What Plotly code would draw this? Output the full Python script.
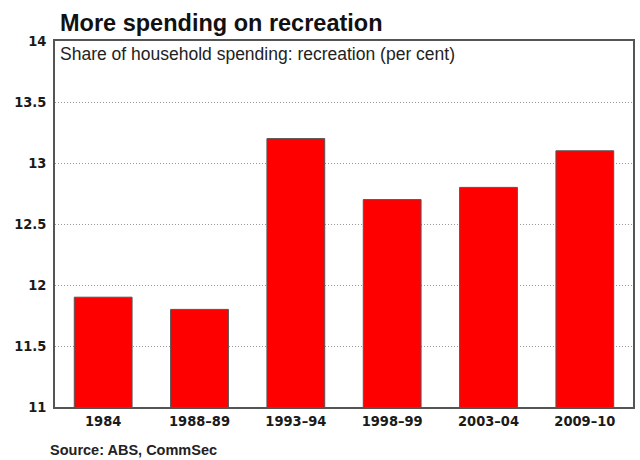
import plotly.graph_objects as go

# Share of household spending on recreation, per cent
periods = ["1984", "1988–89", "1993–94", "1998–99", "2003–04", "2009–10"]
shares = [11.9, 11.8, 13.2, 12.7, 12.8, 13.1]
y_ticks = [11, 11.5, 12, 12.5, 13, 13.5, 14]
y_tick_text = ["<b>11</b>", "<b>11.5</b>", "<b>12</b>", "<b>12.5</b>", "<b>13</b>", "<b>13.5</b>", "<b>14</b>"]

tick_font = dict(size=14.5, family="DejaVu Sans Condensed, Liberation Sans, Arial",
                 color="#1a1a1a")

fig = go.Figure()
fig.add_trace(go.Bar(
    x=periods,
    y=shares,
    width=0.6,
    marker=dict(color="#ff0000", line=dict(color="#555555", width=1)),
))

fig.update_layout(
    width=640,
    height=460,
    margin=dict(l=55, r=5, t=41, b=53),
    paper_bgcolor="white",
    plot_bgcolor="white",
    showlegend=False,
    font=dict(family="Liberation Sans, Arial, sans-serif", color="#222222"),
    xaxis=dict(
        showgrid=False,
        ticks="",
        tickvals=periods,
        ticktext=["<b>%s</b>" % p for p in periods],
        tickfont=tick_font,
        showline=True,
        linecolor="#555555",
        linewidth=1.5,
        mirror=True,
    ),
    yaxis=dict(
        range=[11, 14],
        tickvals=y_ticks,
        ticktext=y_tick_text,
        showgrid=True,
        gridcolor="#999999",
        griddash="1px,2px",
        gridwidth=1,
        ticks="",
        ticklabelstandoff=4,
        tickfont=tick_font,
        showline=True,
        linecolor="#555555",
        linewidth=1.5,
        mirror=True,
        zeroline=False,
    ),
    annotations=[
        dict(
            text="<b>More spending on recreation</b>",
            xref="paper", yref="paper", x=0.0, y=1.0,
            xanchor="left", yanchor="bottom", yshift=3, xshift=3,
            showarrow=False,
            font=dict(size=23.5, color="#111111"),
        ),
        dict(
            text="Share of household spending: recreation (per cent)",
            xref="paper", yref="paper", x=0.0, y=1.0,
            xanchor="left", yanchor="top", xshift=3, yshift=-1,
            showarrow=False,
            font=dict(size=17.5, color="#222222"),
        ),
        dict(
            text="<b>Source: ABS, CommSec</b>",
            xref="paper", yref="paper", x=0.0, y=0,
            xanchor="left", yanchor="top", xshift=-7, yshift=-33,
            showarrow=False,
            font=dict(size=14.5, color="#222222"),
        ),
    ],
)

fig.write_html("out.html")
